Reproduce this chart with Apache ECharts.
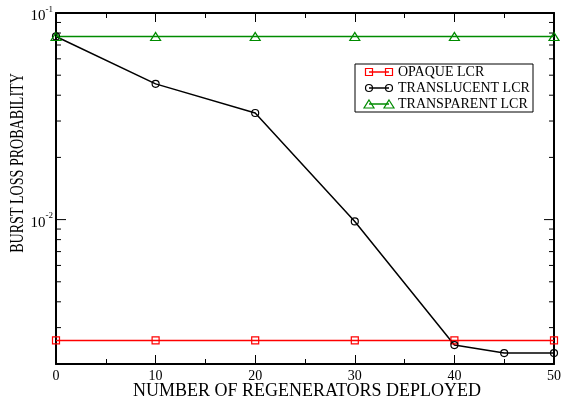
<!DOCTYPE html>
<html><head><meta charset="utf-8">
<script src="https://cdn.jsdelivr.net/npm/echarts@6/dist/echarts.min.js"></script>
<style>html,body{margin:0;padding:0;background:#fff}#c{width:564px;height:405px}</style>
</head><body><div id="c"></div>
<script>
// ---- data ----
const xTicks = [0, 10, 20, 30, 40, 50];
const opaqueX = [0, 10, 20, 30, 40, 50];
const opaqueY = [0.0026, 0.0026, 0.0026, 0.0026, 0.0026, 0.0026];
const translucentX = [0, 10, 20, 30, 40, 45, 50];
const translucentY = [0.077, 0.0454, 0.0328, 0.0098, 0.00247, 0.00226, 0.00226];
const transparentX = [0, 10, 20, 30, 40, 50];
const transparentY = [0.077, 0.077, 0.077, 0.077, 0.077, 0.077];
const seriesNames = ['OPAQUE LCR', 'TRANSLUCENT LCR', 'TRANSPARENT LCR'];
const seriesColors = ['#ff0000', '#000000', '#008b00'];
const seriesSymbols = ['rect', 'circle', 'triangle'];
const yMajorTicks = [0.01, 0.1];
const yMinorTicks = [0.002, 0.003, 0.004, 0.005, 0.006, 0.007, 0.008, 0.009,
                     0.02, 0.03, 0.04, 0.05, 0.06, 0.07, 0.08, 0.09];
const xTitle = 'NUMBER OF REGENERATORS DEPLOYED';
const yTitle = 'BURST LOSS PROBABILITY';

const FONT = '"Liberation Serif", "Times New Roman", serif';
const zip = (xs, ys) => xs.map((x, i) => [x, ys[i]]);
const symSizes = { rect: 7, circle: 7, triangle: [10, 8] };

const chart = echarts.init(document.getElementById('c'), null, { renderer: 'canvas' });

function lineSeries(i, xs, ys) {
  return {
    type: 'line', name: seriesNames[i], data: zip(xs, ys),
    xAxisIndex: 0, yAxisIndex: 0,
    symbol: seriesSymbols[i], symbolSize: symSizes[seriesSymbols[i]],
    showAllSymbol: true,
    lineStyle: { color: seriesColors[i], width: 1.5 },
    itemStyle: { color: 'rgba(0,0,0,0)', borderColor: seriesColors[i], borderWidth: 1.2 },
    emphasis: { disabled: true }, animation: false, z: 3
  };
}

const tickData = yMajorTicks.map(v => [0, v, 10]).concat(yMinorTicks.map(v => [0, v, 5]));

const xAxisCommon = {
  type: 'value', min: 0, max: 50, interval: 10,
  axisLine: { show: true, onZero: false, lineStyle: { color: '#000', width: 2 } },
  axisTick: { show: true, inside: true, length: 9, lineStyle: { color: '#000', width: 1 } },
  minorTick: { show: true, splitNumber: 2, length: 5, lineStyle: { color: '#000', width: 1 } },
  splitLine: { show: false }, minorSplitLine: { show: false }
};

// legend graphic
const legendChildren = [{
  type: 'rect', shape: { x: 355, y: 64, width: 178, height: 48 },
  style: { fill: '#fff', stroke: '#000', lineWidth: 1 }
}];
const rowY = [72, 88, 104];
function legendSymbol(kind, cx, cy, color) {
  const st = { fill: 'none', stroke: color, lineWidth: 1.2 };
  if (kind === 'rect') return { type: 'rect', shape: { x: cx - 3.5, y: cy - 3.5, width: 7, height: 7 }, style: st };
  if (kind === 'circle') return { type: 'circle', shape: { cx: cx, cy: cy, r: 3.5 }, style: st };
  return { type: 'polygon', shape: { points: [[cx, cy - 4], [cx + 5, cy + 4], [cx - 5, cy + 4]] }, style: st };
}
seriesNames.forEach((n, i) => {
  const y = rowY[i];
  legendChildren.push({ type: 'line', shape: { x1: 369, y1: y, x2: 389, y2: y }, style: { stroke: seriesColors[i], lineWidth: 1.5 } });
  legendChildren.push(legendSymbol(seriesSymbols[i], 369, y, seriesColors[i]));
  legendChildren.push(legendSymbol(seriesSymbols[i], 389, y, seriesColors[i]));
  legendChildren.push({ type: 'text', x: 398, y: y, style: { text: n, font: '14px ' + FONT, fill: '#000', verticalAlign: 'middle', align: 'left' } });
});

const option = {
  animation: false,
  backgroundColor: '#fff',
  grid: { left: 56, top: 13, right: 6, bottom: 41, containLabel: false },
  xAxis: [
    Object.assign({}, xAxisCommon, {
      position: 'bottom',
      axisLabel: { show: true, margin: 5, color: '#000', fontSize: 14, fontFamily: FONT,
        formatter: v => (xTicks.indexOf(v) >= 0 ? String(v) : '') }
    }),
    Object.assign({}, xAxisCommon, { position: 'top', axisLabel: { show: false } })
  ],
  yAxis: [
    {
      type: 'log', logBase: 10, min: 0.002, max: 0.1, position: 'left',
      axisLine: { show: true, onZero: false, lineStyle: { color: '#000', width: 2 } },
      axisTick: { show: false }, splitLine: { show: false },
      axisLabel: {
        show: true, margin: 3, color: '#000',
        formatter: v => {
          const e = Math.log10(v), r = Math.round(e);
          if (Math.abs(e - r) > 1e-6) return '';
          return '{b|10}{s|' + r + '}';
        },
        rich: {
          b: { fontSize: 15, fontFamily: FONT, color: '#000', lineHeight: 16, padding: [6, 0, 0, 0] },
          s: { fontSize: 9, fontFamily: FONT, color: '#000', verticalAlign: 'top', lineHeight: 10 }
        }
      }
    },
    {
      type: 'log', logBase: 10, min: 0.002, max: 0.1, position: 'right',
      axisLine: { show: true, onZero: false, lineStyle: { color: '#000', width: 2 } },
      axisTick: { show: false }, axisLabel: { show: false }, splitLine: { show: false }
    }
  ],
  series: [
    {
      type: 'custom', silent: true, xAxisIndex: 0, yAxisIndex: 0, z: 5, clip: false,
      data: tickData,
      encode: { x: 0, y: 1 },
      renderItem: function (params, api) {
        const v = api.value(1), len = api.value(2);
        const p0 = api.coord([0, v]), p1 = api.coord([50, v]);
        const st = { stroke: '#000', lineWidth: 1 };
        return { type: 'group', children: [
          { type: 'line', shape: { x1: p0[0], y1: p0[1], x2: p0[0] + len, y2: p0[1] }, style: st },
          { type: 'line', shape: { x1: p1[0] - len, y1: p1[1], x2: p1[0], y2: p1[1] }, style: st }
        ] };
      }
    },
    lineSeries(0, opaqueX, opaqueY),
    lineSeries(1, translucentX, translucentY),
    lineSeries(2, transparentX, transparentY)
  ],
  graphic: [
    { type: 'text', x: 307, y: 382, style: { text: xTitle, font: '18px ' + FONT, fill: '#000', align: 'center', verticalAlign: 'top' } },
    { type: 'text', x: 18, y: 163, rotation: Math.PI / 2, scaleX: 0.74, style: { text: yTitle, font: '19px ' + FONT, fill: '#000', align: 'center', verticalAlign: 'middle' } },
    { type: 'group', children: legendChildren }
  ]
};
chart.setOption(option);
</script>
</body></html>
